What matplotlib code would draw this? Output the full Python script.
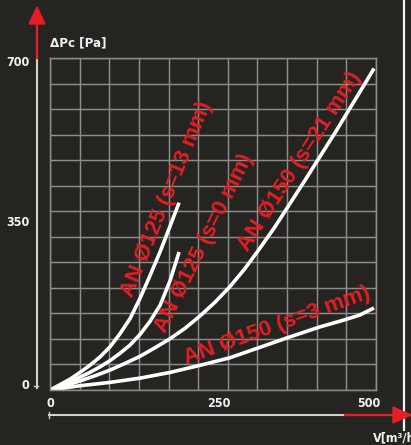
import numpy as np
import matplotlib
matplotlib.use("Agg")
import matplotlib.pyplot as plt
from matplotlib import font_manager as fm
from matplotlib.patches import Polygon

# curve data (V in m3/h, dPc in Pa)
v_125_s13 = [0, 15, 31, 46, 61, 77, 92, 107, 123, 138, 153, 169, 184, 198]
p_125_s13 = [0, 11, 23, 37, 52, 70, 91, 118, 151, 193, 240, 292, 345, 395]

v_125_s0 = [0, 15, 31, 46, 61, 77, 92, 107, 123, 138, 153, 169, 184, 198]
p_125_s0 = [0, 8, 17, 27, 37, 49, 62, 77, 95, 117, 144, 179, 230, 291]

v_150_s21 = [0, 23, 46, 69, 92, 115, 138, 161, 184, 207, 230, 253,
             276, 299, 322, 345, 368, 391, 414, 437, 460, 483, 497]
p_150_s21 = [0, 9, 19, 30, 42, 56, 71, 89, 108, 130, 156, 185,
             218, 256, 299, 344, 393, 442, 492, 542, 594, 646, 678]

v_150_s3 = [0, 46, 92, 138, 184, 230, 276, 322, 368, 414, 452, 475, 497]
p_150_s3 = [0, 9, 16, 25, 37, 52, 68, 90, 112, 133, 148, 158, 173]

labels = ["AN Ø125 (s=13 mm)", "AN Ø125 (s=0 mm)", "AN Ø150 (s=21 mm)", "AN Ø150 (s=3 mm)"]
label_pos = [(179, 403), (236, 310), (383, 481), (348, 135)]
label_rot = [67.8, 63.6, 57.1, 19.8]

x_ticks = [0, 250, 500]
y_ticks = [0, 350, 700]

BG = "#262420"
RED = "#e31e24"
GRID = "#8c8c8c"
WHITE = "#f2f2f2"


def narrow_font(size):
    # look for a condensed / narrow bold face among installed fonts
    cands = []
    for f in fm.fontManager.ttflist:
        st = str(f.stretch)
        if ("Narrow" in f.name or "Condensed" in f.name
                or st in ("condensed", "semi-condensed", "extra-condensed")):
            if f.style != "normal":
                continue
            w = f.weight if isinstance(f.weight, int) else {"bold": 700}.get(f.weight, 400)
            cands.append((abs(w - 700), f.fname))
    if cands:
        return fm.FontProperties(fname=sorted(cands)[0][1], size=size)
    return fm.FontProperties(family="Roboto", weight="bold", size=size)


W, H = 411, 445
fig = plt.figure(figsize=(W / 100, H / 100), dpi=100, facecolor=BG)

# grid area in pixels: x 50..376, y 58..390
ax = fig.add_axes([50 / W, (H - 390) / H, 326 / W, 332 / H])
ax.set_facecolor(BG)
ax.set_xlim(0, 500)
ax.set_ylim(0, 700)
ax.set_xticks(np.linspace(0, 500, 12))
ax.set_yticks(np.linspace(0, 700, 14))
ax.tick_params(length=0, labelbottom=False, labelleft=False)
ax.grid(True, color=GRID, lw=1.05)
for s in ax.spines.values():
    s.set_color(GRID)
    s.set_linewidth(1.05)

for xs, ys in [(v_125_s13, p_125_s13), (v_125_s0, p_125_s0),
               (v_150_s21, p_150_s21), (v_150_s3, p_150_s3)]:
    ax.plot(xs, ys, color="white", lw=2.6, solid_capstyle="butt", solid_joinstyle="round")

for txt, (lx, ly), rot in zip(labels, label_pos, label_rot):
    ax.text(lx, ly, txt, color=RED, fontsize=16, fontweight="bold",
            family="Liberation Sans", rotation=rot, rotation_mode="anchor",
            ha="center", va="center")

# tick labels
x_off = [0, 4.5, -5.5]
for t, o in zip(x_ticks, x_off):
    ax.annotate(str(t), (t, 0), xytext=(o, -10), textcoords="offset points",
                ha="center", va="center", color=WHITE, fontproperties=narrow_font(9))
y_off = [3, 1, -3]
for t, o in zip(y_ticks, y_off):
    ax.annotate(str(t), (0, t), xytext=(-15, o), textcoords="offset points",
                ha="right", va="center", color=WHITE, fontproperties=narrow_font(9))

# overlay in pixel coords for the axis arrows and frame line
ov = fig.add_axes([0, 0, 1, 1], facecolor="none")
ov.set_xlim(0, W)
ov.set_ylim(H, 0)
ov.axis("off")

ov.plot([404, 404], [0, 430], color=WHITE, lw=1.6, zorder=1)

ov.plot([37, 37], [58, 388], color="#d0d0d0", lw=1.5, zorder=2)
ov.plot([37, 37], [22, 58], color=RED, lw=1.6, zorder=2)
ov.add_patch(Polygon([(29, 24), (45, 24), (37, 7)], closed=True, color=RED, zorder=3))
ov.plot([34, 38], [386, 386], color="#d0d0d0", lw=1.0, zorder=2)

ov.plot([49, 346], [415, 415], color="#d0d0d0", lw=1.5, zorder=2)
ov.plot([345, 395], [415, 415], color=RED, lw=1.6, zorder=2)
ov.add_patch(Polygon([(393, 407), (393, 423), (411, 415)], closed=True, color=RED, zorder=3))
ov.plot([49, 49], [412, 418], color="#d0d0d0", lw=1.0, zorder=2)

ov.text(50, 43, "ΔPc [Pa]", color=WHITE, fontproperties=narrow_font(9.5),
        ha="left", va="center")
ov.text(373, 438, "V[m³/h]", color=WHITE, fontproperties=narrow_font(9),
        ha="left", va="center")

fig.savefig("out.png", dpi=100, facecolor=BG)
